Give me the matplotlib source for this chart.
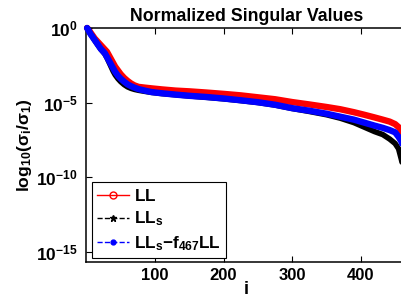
import numpy as np
import matplotlib
matplotlib.use("Agg")
import matplotlib.pyplot as plt
from matplotlib.lines import Line2D

plt.rcParams['font.family'] = ['Liberation Sans', 'DejaVu Sans']
plt.rcParams['font.weight'] = 'bold'
plt.rcParams['mathtext.fontset'] = 'custom'
plt.rcParams['mathtext.default'] = 'bf'
plt.rcParams['mathtext.bf'] = 'Liberation Sans:bold'
plt.rcParams['mathtext.rm'] = 'Liberation Sans:bold'
plt.rcParams['mathtext.it'] = 'Liberation Sans:bold'

# singular value index
idx = [1, 3, 6, 9, 12, 15, 18, 21, 24, 27, 30, 33, 36, 39, 42, 46, 50, 55, 60, 65,
       70, 76, 85, 95, 110, 130, 150, 175, 200, 225, 250, 275, 300, 325, 350, 370,
       390, 405, 420, 432, 442, 450, 455, 459, 463, 467]

# log10(sigma_i / sigma_1)
log_LL = [0, -0.1, -0.3, -0.5, -0.7, -0.85, -1.0, -1.15, -1.3, -1.45, -1.6, -1.85,
          -2.1, -2.35, -2.6, -2.85, -3.1, -3.35, -3.55, -3.72, -3.85, -3.95, -4.0,
          -4.05, -4.12, -4.2, -4.25, -4.33, -4.42, -4.52, -4.65, -4.78, -4.97, -5.13,
          -5.3, -5.45, -5.65, -5.82, -6.0, -6.15, -6.28, -6.45, -6.65, -6.9, -7.3, -8.0]

log_LLs = [0, -0.15, -0.4, -0.6, -0.82, -1.02, -1.22, -1.42, -1.58, -1.75, -2.0, -2.3,
           -2.6, -2.9, -3.15, -3.4, -3.6, -3.8, -3.95, -4.05, -4.12, -4.18, -4.25,
           -4.32, -4.4, -4.48, -4.56, -4.65, -4.75, -4.87, -5.0, -5.17, -5.4, -5.6,
           -5.82, -6.05, -6.35, -6.65, -6.95, -7.15, -7.45, -7.75, -8.1, -8.8, -9.6, -11.0]

log_diff = [0, -0.15, -0.4, -0.6, -0.8, -1.0, -1.2, -1.4, -1.55, -1.7, -1.95, -2.2,
            -2.45, -2.7, -2.95, -3.2, -3.4, -3.6, -3.78, -3.9, -4.0, -4.1, -4.2,
            -4.3, -4.38, -4.47, -4.55, -4.63, -4.73, -4.85, -4.98, -5.15, -5.38, -5.55,
            -5.75, -5.95, -6.15, -6.35, -6.55, -6.7, -6.85, -7.0, -7.3, -7.6, -8.2, -9.0]

labels = [r'$\mathbf{LL}$', r'$\mathbf{LL_s}$', r'$\mathbf{LL_s{-}f_{467}LL}$']
xticks = [100, 200, 300, 400]
yexp = [0, -5, -10, -15]

fig = plt.figure(figsize=(4.01, 3.05), dpi=100)
ax = fig.add_axes([86.4/401, 43/305, 320.4/401, 234/305])

x = np.array(idx)
ax.semilogy(x, 10.0**np.array(log_LL), color='red', lw=4.6, solid_capstyle='round',
            solid_joinstyle='round', zorder=2, clip_on=False)
ax.semilogy(x, 10.0**np.array(log_LLs), color='black', lw=4.0, solid_capstyle='round',
            solid_joinstyle='round', zorder=3, clip_on=False)
ax.semilogy(x, 10.0**np.array(log_diff), color='blue', lw=4.6, solid_capstyle='round',
            solid_joinstyle='round', zorder=4, clip_on=False)

ax.set_xlim(0, 467)
ax.set_ylim(10**-15.7, 1)
ax.set_xticks(xticks)
ax.set_xticklabels([str(t) for t in xticks])
ax.set_yticks([10.0**e for e in yexp])
ax.set_yticklabels([r'$\mathbf{10^{%d}}$' % e for e in yexp])
ax.minorticks_off()
ax.tick_params(direction='in', length=4, width=0.8, top=True, right=True, pad=5)
ax.tick_params(axis='x', labelsize=12, pad=4)
ax.tick_params(axis='y', labelsize=12.5, pad=6)
for s in ax.spines.values():
    s.set_linewidth(1.1)

ax.set_title('Normalized Singular Values', fontsize=12.8, fontweight='bold', pad=5)
ax.set_xlabel('i', fontsize=13, fontweight='bold', labelpad=-1)
ax.set_ylabel(r'$\mathbf{log_{10}(\sigma_i/\sigma_1)}$', fontsize=12.6, labelpad=2)

handles = [
    Line2D([], [], color='red', ls='-', lw=1, marker='o', mfc='none', mec='red', ms=5),
    Line2D([], [], color='black', ls='--', lw=1, marker='*', ms=5),
    Line2D([], [], color='blue', ls='--', lw=1, marker='.', ms=7),
]
leg = ax.legend(handles, labels, loc='lower left',
                bbox_to_anchor=(92/401, 47/305), bbox_transform=fig.transFigure,
                borderaxespad=0, fontsize=12.3, handlelength=1.85, handletextpad=0.3,
                labelspacing=0.35, borderpad=0.3, fancybox=False, framealpha=1)
leg.get_frame().set_edgecolor('black')
leg.get_frame().set_linewidth(0.8)

fig.savefig('out.png', dpi=100)
